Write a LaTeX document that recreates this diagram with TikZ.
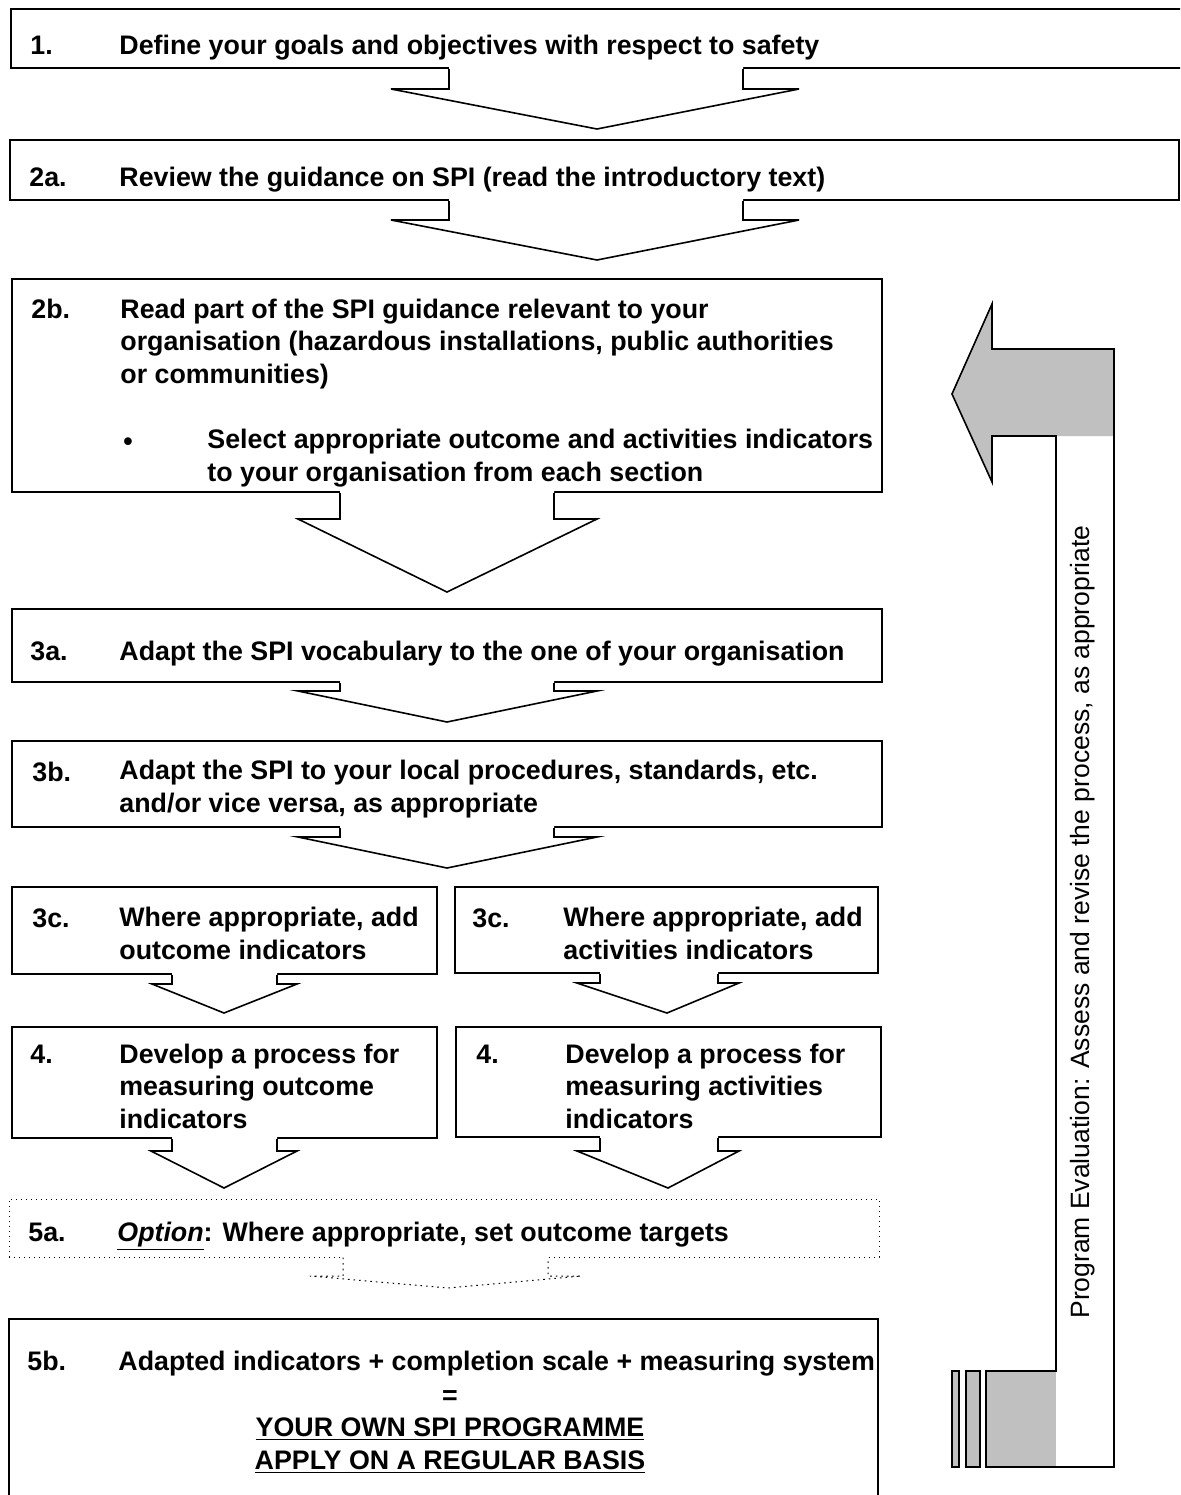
\documentclass[tikz,border=0pt]{standalone}
\usepackage{fontspec}
\setmainfont{Liberation Sans}
\usetikzlibrary{fit}

\definecolor{evalgrey}{HTML}{C0C0C0}

% block arrow hanging under a box: [style]{box}{stem l}{stem r}{wing l}{wing r}{neck y}{tip x}{tip y}
\newcommand{\flowarrow}[9][]{%
    \fill[white] (#3,0 |- #2.south) ++(0,-2) -- (#3,#7) -- (#5,#7) -- (#8,#9) -- (#6,#7) -- (#4,#7) -- (#4,0 |- #2.south) -- ++(0,-2) -- cycle;
    \draw[arrowline,#1] (#3,0 |- #2.south) -- (#3,#7) -- (#5,#7) -- (#8,#9) -- (#6,#7) -- (#4,#7) -- (#4,0 |- #2.south);
}

\begin{document}
\begin{tikzpicture}[x=0.5pt, y=-0.5pt,
    box/.style={draw, line width=1pt, inner sep=0pt},
    optbox/.style={draw, line width=0.5pt, dotted, inner sep=0pt},
    arrowline/.style={line width=0.8pt, line join=miter},
    num/.style={anchor=base west, inner sep=0pt, font=\fontsize{13.4}{16.25}\selectfont\bfseries},
    txt/.style={num, align=left}]

    \useasboundingbox (0,0) rectangle (1180,1495);
    \clip (0,0) rectangle (1180,1495);

    % Boxes
    \node[box, fit={(11,8.5) (1195,68)}] (b1) {};
    \node[box, fit={(10,140) (1179,200)}] (b2a) {};
    \node[box, fit={(12,279) (882,492)}] (b2b) {};
    \node[box, fit={(12,609) (882,682)}] (b3a) {};
    \node[box, fit={(12,741) (882,827)}] (b3b) {};
    \node[box, fit={(12,887) (437,974)}] (b3cl) {};
    \node[box, fit={(455,887) (878,973)}] (b3cr) {};
    \node[box, fit={(12,1027) (437,1138)}] (b4l) {};
    \node[box, fit={(456,1027) (881,1137)}] (b4r) {};
    \node[optbox, fit={(9,1199) (879,1257)}] (b5a) {};
    \node[box, fit={(9,1319) (878,1510)}] (b5b) {};

    % Arrows between the steps
    \flowarrow{b1}{449}{743}{391}{799}{89}{597}{129}
    \flowarrow{b2a}{449}{743}{391}{799}{220}{597}{260}
    \flowarrow{b2b}{340}{554}{298}{597}{519}{447}{592}
    \flowarrow{b3a}{340}{554}{298}{597}{691}{447}{722}
    \flowarrow{b3b}{340}{554}{298}{597}{837}{447}{868}
    \flowarrow{b3cl}{172}{277}{152}{297}{984}{224}{1013}
    \flowarrow{b3cr}{600}{718}{577}{739}{983}{667}{1013}
    \flowarrow{b4l}{172}{277}{151}{297}{1151}{224}{1188}
    \flowarrow{b4r}{600}{718}{577}{739}{1151}{668}{1188}
    \flowarrow[dotted, line width=0.5pt]{b5a}{343}{548}{310}{581}{1276}{448}{1288}

    % Step texts (multi-line ones sit on their last line)
    \node[num] (n1) at (30,54) {1.};
    \node[txt] (t1) at (119,54) {Define your goals and objectives with respect to safety};
    \node[num] (n2a) at (29,186) {2a.};
    \node[txt] (t2a) at (119,186) {Review the guidance on SPI (read the introductory text)};
    \node[num] (n2b) at (31,318) {2b.};
    \node[txt] (t2b) at (120,383) {Read part of the SPI guidance relevant to your\\organisation (hazardous installations, public authorities\\or communities)};
    \node[num] (bul) at (123,450) {\textbullet};
    \node[txt] (t2bsel) at (207,481) {Select appropriate outcome and activities indicators\\to your organisation from each section};
    \node[num] (n3a) at (30,660) {3a.};
    \node[txt] (t3a) at (119,660) {Adapt the SPI vocabulary to the one of your organisation};
    \node[num] (n3b) at (32,781) {3b.};
    \node[txt] (t3b) at (119,812) {Adapt the SPI to your local procedures, standards, etc.\\and/or vice versa, as appropriate};
    \node[num] (n3cl) at (32,927) {3c.};
    \node[txt] (t3cl) at (119,959) {Where appropriate, add\\outcome indicators};
    \node[num] (n3cr) at (472,927) {3c.};
    \node[txt] (t3cr) at (563,959) {Where appropriate, add\\activities indicators};
    \node[num] (n4l) at (30,1063) {4.};
    \node[txt] (t4l) at (119,1128) {Develop a process for\\measuring outcome\\indicators};
    \node[num] (n4r) at (476,1063) {4.};
    \node[txt] (t4r) at (565,1128) {Develop a process for\\measuring activities\\indicators};
    \node[num] (n5a) at (28,1241) {5a.};
    \node[txt] (t5a) at (117,1241) {\underline{\textit{Option}}: Where appropriate, set outcome targets};
    \node[num] (n5b) at (27,1370) {5b.};
    \node[txt] (t5b) at (118,1370) {Adapted indicators + completion scale + measuring system};
    \node[txt, anchor=base, align=center] (t5bres) at (450,1469) {=\\\underline{YOUR OWN SPI PROGRAMME}\\\underline{APPLY ON A REGULAR BASIS}};

    % Feedback arrow
    \fill[evalgrey] (952,394) -- (992,304) -- (992,349) -- (1114,349) -- (1114,436) -- (992,436) -- (992,482) -- cycle;
    \fill[evalgrey] (986,1371) rectangle (1056,1467);
    \draw[arrowline] (952,394) -- (992,304) -- (992,349) -- (1114,349) -- (1114,1467) -- (986,1467) -- (986,1371) -- (1056,1371) -- (1056,436) -- (992,436) -- (992,482) -- cycle;
    \draw[arrowline, fill=evalgrey] (952,1371) rectangle (959,1467);
    \draw[arrowline, fill=evalgrey] (966,1371) rectangle (980,1467);
    \node[anchor=base west, rotate=90, inner sep=0pt, font=\fontsize{13.25}{16}\selectfont] (eval) at (1089,1319) {Program Evaluation: Assess and revise the process, as appropriate};

\end{tikzpicture}
\end{document}
